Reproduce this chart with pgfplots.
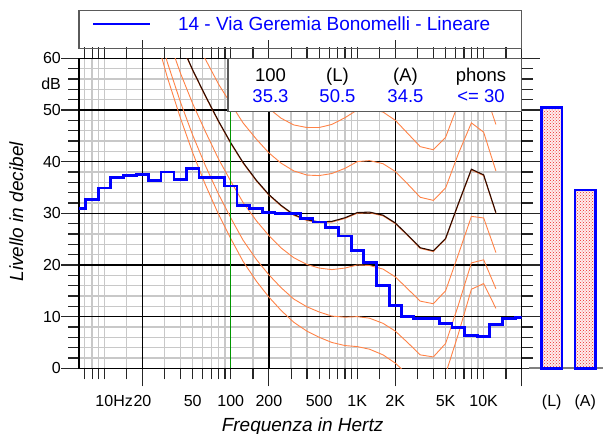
\documentclass[border=0pt]{standalone}
\usepackage{fontspec}
\setmainfont{Liberation Sans}
\usepackage{pgfplots}
\usepackage{pgfplotstable}
\pgfplotsset{compat=1.18}
\usetikzlibrary{patterns}

\definecolor{lvlblue}{RGB}{0,0,255}
\definecolor{isoorange}{RGB}{255,130,70}
\definecolor{phonblack}{RGB}{45,10,0}
\definecolor{refgreen}{RGB}{0,150,0}
\definecolor{gridlight}{RGB}{200,200,200}
\definecolor{boxgray}{RGB}{90,90,90}
\definecolor{dotred}{RGB}{235,40,40}

% third-octave spectrum, dB
\pgfplotstableread{
f      L
6.3    30.9
8      32.7
10     34.9
12.5   37.0
16     37.3
20     37.5
25     36.3
31.5   38.0
40     36.5
50     38.6
63     37.0
80     36.9
100    35.3
125    31.5
160    31.0
200    30.2
250    29.9
315    29.9
400    29.0
500    28.3
630    27.3
800    25.6
1000   22.8
1250   20.4
1600   16.1
2000   12.2
2500   10.0
3150   9.6
4000   9.6
5000   8.7
6300   7.9
8000   6.4
10000  6.1
12500  8.5
16000  9.6
20000  9.8
}\spectrum

% equal-loudness contours
\pgfplotstableread{
f      maf   p10   p20   p30   p40   p50
20     74.3  76.8  81.3  86.0  91.0  96.2
25     65.0  67.7  72.5  77.6  82.9  88.5
31.5   56.3  59.2  64.3  69.7  75.4  81.3
40     48.4  51.5  57.1  62.9  69.0  75.4
50     41.7  45.1  51.2  57.6  64.3  71.3
63     35.5  39.2  45.8  52.6  59.8  67.1
80     29.8  33.7  40.5  47.7  55.0  62.7
100    25.1  29.1  36.2  43.5  51.2  59.1
125    20.7  24.8  32.1  39.7  47.5  55.7
160    16.8  21.0  28.5  36.2  44.3  52.7
200    13.8  18.1  25.7  33.5  41.7  50.3
250    11.2  15.6  23.3  31.4  39.7  48.4
315    8.9   13.4  21.4  29.6  38.2  47.1
400    7.2   11.9  20.1  28.6  37.4  46.6
500    6.0   10.9  19.4  28.2  37.3  46.6
630    5.0   10.1  19.1  28.3  37.7  47.2
800    4.4   9.9   19.4  29.0  38.7  48.5
1000   4.2   10.0  20.0  30.0  40.0  50.0
1250   3.7   9.7   19.9  30.1  40.2  50.2
1600   2.6   8.7   19.2  29.5  39.6  49.6
2000   1.0   7.2   17.7  28.0  38.1  48.0
2500   -1.2  5.0   15.4  25.7  35.7  45.5
3150   -3.6  2.6   13.0  23.2  33.1  42.9
4000   -3.9  2.2   12.5  22.6  32.5  42.3
5000   -1.1  4.8   15.0  25.0  34.9  44.7
6300   6.6   12.2  22.0  31.7  41.5  51.2
8000   15.3  20.4  29.4  38.4  47.5  56.8
10000  16.4  21.0  29.1  37.3  45.7  54.3
12500  11.6  15.4  22.4  30.0  38.2  47.2
}\contours

\begin{document}
\begin{tikzpicture}
\useasboundingbox (0,0) rectangle (603pt,434pt);

\begin{axis}[
  at={(79pt,65.7pt)}, anchor=south west,
  scale only axis, width=442.7pt, height=310pt,
  xmode=log, xmin=6.3, xmax=20000,
  ymin=0, ymax=60,
  axis line style={black, line width=1.4pt},
  tick align=outside,
  major tick length=18pt, minor tick length=11pt,
  tick style={black!85, line width=1.2pt},
  xtick={20,200,2000,20000}, xticklabels={,,,},
  minor xtick={7,8,9,10,15,30,40,50,60,70,80,90,100,150,300,400,500,600,700,800,900,1000,1500,3000,4000,5000,6000,7000,8000,9000,10000,15000},
  extra x ticks={10,20,50,100,200,500,1000,2000,5000,10000},
  extra x tick labels={10\rlap{Hz},20,50,100,200,500,1K,2K,5K,10K},
  extra x tick style={major tick length=0pt, grid=none},
  xticklabel style={anchor=base, inner sep=0pt, yshift=-38pt},
  ytick={0,10,...,60}, yticklabels={0,10,20,30,40,50,60},
  minor ytick={2,4,...,58},
  extra y ticks={55}, extra y tick labels={dB},
  extra y tick style={grid=none, tick style={draw=none}},
  yticklabel style={anchor=east, inner sep=0pt},
  xmajorgrids=false, xminorgrids=true,
  ymajorgrids=true, yminorgrids=true,
  major grid style={black, line width=1.4pt},
  minor grid style={gridlight, line width=1.3pt},
  tick label style={font=\fontsize{16}{18}\selectfont},
  label style={font=\fontsize{19}{22}\selectfont\itshape},
  xlabel={Frequenza in Hertz},
  xlabel style={at={(axis description cs:0.505,-0.2023)}, anchor=base},
  ylabel={Livello in decibel},
  ylabel style={at={(axis description cs:-0.1265,0.505)}, anchor=base},
  legend style={draw=none, fill=none, at={(axis description cs:0.0287,1.1106)},
    anchor=west, inner sep=0pt, outer sep=0pt, column sep=27pt,
    nodes={inner sep=0pt, text=lvlblue, font=\fontsize{19}{22}\selectfont}},
  legend image code/.code={\draw[#1] (0pt,0pt) -- (56.6pt,0pt);},
]
% black decade lines at 20 Hz, 200 Hz, 2 kHz
\addplot[black, line width=1.4pt, forget plot] coordinates {(20,0) (20,60)};
\addplot[black, line width=1.4pt, forget plot] coordinates {(200,0) (200,60)};
\addplot[black, line width=1.4pt, forget plot] coordinates {(2000,0) (2000,60)};

\addplot[isoorange, line width=0.9pt, forget plot] table[x=f, y=maf] {\contours};
\addplot[isoorange, line width=0.9pt, forget plot] table[x=f, y=p10] {\contours};
\addplot[isoorange, line width=0.9pt, forget plot] table[x=f, y=p20] {\contours};
\addplot[isoorange, line width=0.9pt, forget plot] table[x=f, y=p30] {\contours};
\addplot[isoorange, line width=0.9pt, forget plot] table[x=f, y=p40] {\contours};
\addplot[isoorange, line width=0.9pt, forget plot] table[x=f, y=p50] {\contours};
\addplot[phonblack, line width=1.1pt, yshift=0.7pt, forget plot] table[x=f, y=p30] {\contours};
\addplot[refgreen, line width=1pt, forget plot] coordinates {(100,0) (100,60)};
\addplot[const plot mark mid, lvlblue, line width=2.8pt] table[x=f, y=L] {\spectrum};
\addlegendentry{14 - Via Geremia Bonomelli - Lineare}
\end{axis}

% legend frame
\draw[boxgray, line width=1.4pt] (79pt,385.7pt) rectangle (521.7pt,423.3pt);

% summary box
\draw[boxgray, line width=1.4pt, fill=white] (228pt,322.3pt) rectangle (521.7pt,375.7pt);
\begin{scope}[every node/.style={anchor=base, inner sep=0pt, font=\fontsize{18.5}{20}\selectfont}]
\node at (270.5pt,352pt) {100};
\node at (337.5pt,352pt) {(L)};
\node at (405.5pt,352pt) {(A)};
\node at (481pt,352pt) {phons};
\node[text=lvlblue] at (270.5pt,331pt) {35.3};
\node[text=lvlblue] at (337.5pt,331pt) {50.5};
\node[text=lvlblue] at (405.5pt,331pt) {34.5};
\node[text=lvlblue] at (481pt,331pt) {<= 30};
\end{scope}

\begin{axis}[
  at={(529pt,65.7pt)}, anchor=south west,
  scale only axis, width=74pt, height=310pt,
  xmin=0.324, xmax=2.527, ymin=0, ymax=60,
  clip=false,
  axis x line*=bottom, axis y line=none,
  x axis line style={black!50, line width=1.8pt},
  xtick={1,2}, xticklabels={(L),(A)}, major tick length=0pt,
  xticklabel style={anchor=base, inner sep=0pt, yshift=-38pt},
  tick label style={font=\fontsize{16}{18}\selectfont},
  ytick=\empty,
]
% baseline under the level bars
\addplot[black!50, line width=1.8pt, forget plot] coordinates {(0.324,0) (2.527,0)};
\addplot[ybar, bar width=20.5pt, draw=lvlblue, line width=2.8pt,
  preaction={fill=red!7}, pattern=crosshatch dots, pattern color=dotred]
  coordinates {(1,50.5) (2,34.5)};
\end{axis}
\end{tikzpicture}
\end{document}
